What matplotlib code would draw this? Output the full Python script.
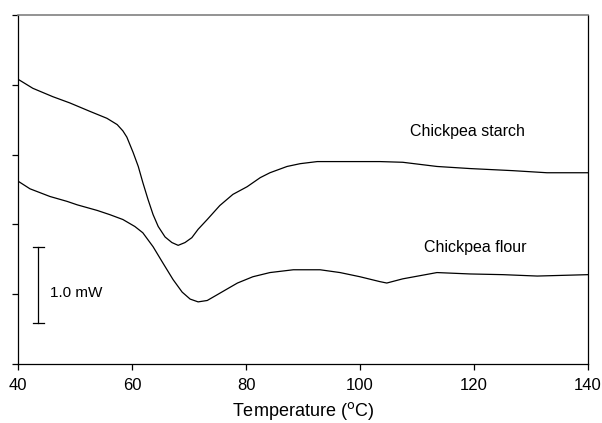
import matplotlib.pyplot as plt

plt.rcParams['font.family'] = ['Liberation Sans', 'DejaVu Sans']

# (temperature in C, heat flow in arbitrary units)
starch_t = [40.0, 42.6, 46.1, 49.1, 52.6, 55.6, 57.4, 58.4, 59.1, 60.2, 61.1, 61.9,
            62.8, 63.7, 64.6, 65.8, 67.0, 68.1, 69.3, 70.5, 71.6, 73.2, 75.4, 77.7,
            80.2, 82.5, 84.2, 87.2, 89.5, 92.5, 97.7, 103.5, 107.5, 113.5, 119.3,
            126.8, 132.8, 140.0]
starch_v = [4.08, 3.95, 3.83, 3.74, 3.62, 3.52, 3.43, 3.34, 3.25, 3.03, 2.83, 2.60,
            2.36, 2.14, 1.97, 1.82, 1.74, 1.70, 1.74, 1.81, 1.93, 2.07, 2.27, 2.43,
            2.54, 2.67, 2.74, 2.83, 2.87, 2.90, 2.90, 2.90, 2.89, 2.83, 2.80,
            2.77, 2.74, 2.74]

flour_t = [40.0, 42.1, 45.6, 48.6, 50.4, 53.9, 56.1, 58.4, 60.5, 61.9, 63.7, 65.4,
           67.2, 68.8, 70.2, 71.6, 73.2, 74.9, 76.8, 78.5, 81.2, 84.2, 88.3, 93.0,
           96.5, 100.0, 103.5, 104.7, 107.5, 113.5, 119.3, 125.1, 131.1, 140.0]
flour_v = [2.62, 2.51, 2.40, 2.33, 2.28, 2.20, 2.14, 2.07, 1.97, 1.88, 1.68, 1.45,
           1.21, 1.03, 0.93, 0.89, 0.91, 0.99, 1.08, 1.16, 1.25, 1.31, 1.35, 1.35,
           1.31, 1.25, 1.18, 1.16, 1.22, 1.31, 1.29, 1.28, 1.26, 1.28]

xticks = [40, 60, 80, 100, 120, 140]
yticks = [0, 1, 2, 3, 4, 5]

fig = plt.figure(figsize=(6.02, 4.23), dpi=100)
ax = fig.add_axes([18 / 602, 1 - 364 / 423, 570 / 602, 349 / 423])

ax.plot(starch_t, starch_v, color='black', lw=0.9)
ax.plot(flour_t, flour_v, color='black', lw=0.9)

# 1.0 mW scale bar
ax.plot([43.5, 43.5], [0.59, 1.68], color='black', lw=0.9)
ax.plot([42.6, 44.5], [1.68, 1.68], color='black', lw=0.9)
ax.plot([42.6, 44.5], [0.59, 0.59], color='black', lw=0.9)
ax.text(45.6, 1.02, '1.0 mW', fontsize=11, va='center', ha='left')

ax.text(108.8, 3.33, 'Chickpea starch', fontsize=11.5, va='center', ha='left')
ax.text(111.2, 1.67, 'Chickpea flour', fontsize=11.5, va='center', ha='left')

ax.set_xlim(40, 140)
ax.set_ylim(0, 5)
ax.set_xticks(xticks)
ax.set_yticks(yticks)
ax.set_yticklabels([])
ax.tick_params(axis='both', direction='out', length=4, width=0.9, labelsize=12)
ax.tick_params(axis='x', pad=6)
ax.set_xlabel('Temperature ($^{\\mathrm{o}}$C)', fontsize=13, labelpad=5)

for side in ['left', 'bottom', 'right']:
    ax.spines[side].set_linewidth(0.9)
ax.spines['top'].set_color('#808080')
ax.spines['top'].set_linewidth(1.2)

fig.savefig('out.png', dpi=100)
